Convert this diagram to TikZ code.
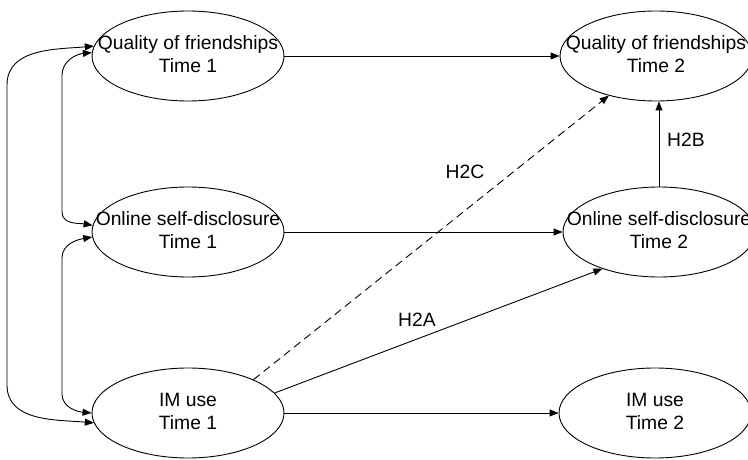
\documentclass[tikz,border=0pt]{standalone}
\usepackage{fontspec}
\setmainfont{Liberation Sans}
\usetikzlibrary{shapes.geometric,arrows.meta}
\newcommand{\twolines}[2]{\makebox[0pt][c]{\begin{tabular}{@{}c@{}}#1\\#2\end{tabular}}}
\begin{document}
\begin{tikzpicture}[x=1pt,y=-1pt,
  var/.style={draw,ellipse,minimum width=192pt,minimum height=90pt,inner sep=0pt,line width=0.9pt,
    font=\fontsize{19.3}{23.2}\selectfont},
  lbl/.style={font=\fontsize{19.3}{23.2}\selectfont,inner sep=0pt},
  arr/.style={line width=0.9pt,-{Triangle[length=9pt,width=7pt]}},
  darr/.style={line width=0.9pt,{Triangle[length=9pt,width=7pt]}-{Triangle[length=9pt,width=7pt]}}]
\useasboundingbox (0,0) rectangle (748,460);
\node[var] (Q1) at (188,56) {\twolines{Quality of friendships}{Time 1}};
\node[var] (Q2) at (656,56) {\twolines{Quality of friendships}{Time 2}};
\node[var] (O1) at (188,232) {\twolines{Online self-disclosure}{Time 1}};
\node[var] (O2) at (659,232) {\twolines{Online self-disclosure}{Time 2}};
\node[var] (I1) at (188,413) {\twolines{IM use}{Time 1}};
\node[var] (I2) at (655,413) {\twolines{IM use}{Time 2}};
% horizontal paths
\draw[arr] (Q1.east) -- (Q2.west);
\draw[arr] (O1.east) -- (O2.west);
\draw[arr] (I1.east) -- (I2.west);
\draw[arr] (O2.north) -- (O2.north |- Q2.south);
\draw[arr,dashed,dash pattern=on 8pt off 5pt] (I1.27) -- (Q2.220);
\draw[arr] (I1.13) -- (O2.213);
% labels
\node[lbl] (h2b) at (686,140) {H2B};
\node[lbl] (h2c) at (465,172) {H2C};
\node[lbl] (h2a) at (417,320) {H2A};
% left correlations
\draw[darr] (Q1.174) to[out=185,in=90] (7,85) -- (7,385) to[out=-90,in=175] (I1.186);
\draw[darr] (Q1.178) to[out=185,in=90] (62,75) -- (62,212) to[out=-90,in=170] (O1.176);
\draw[darr] (O1.183) to[out=190,in=90] (62,258) -- (62,394) to[out=-90,in=175] (I1.180);
\end{tikzpicture}
\end{document}
